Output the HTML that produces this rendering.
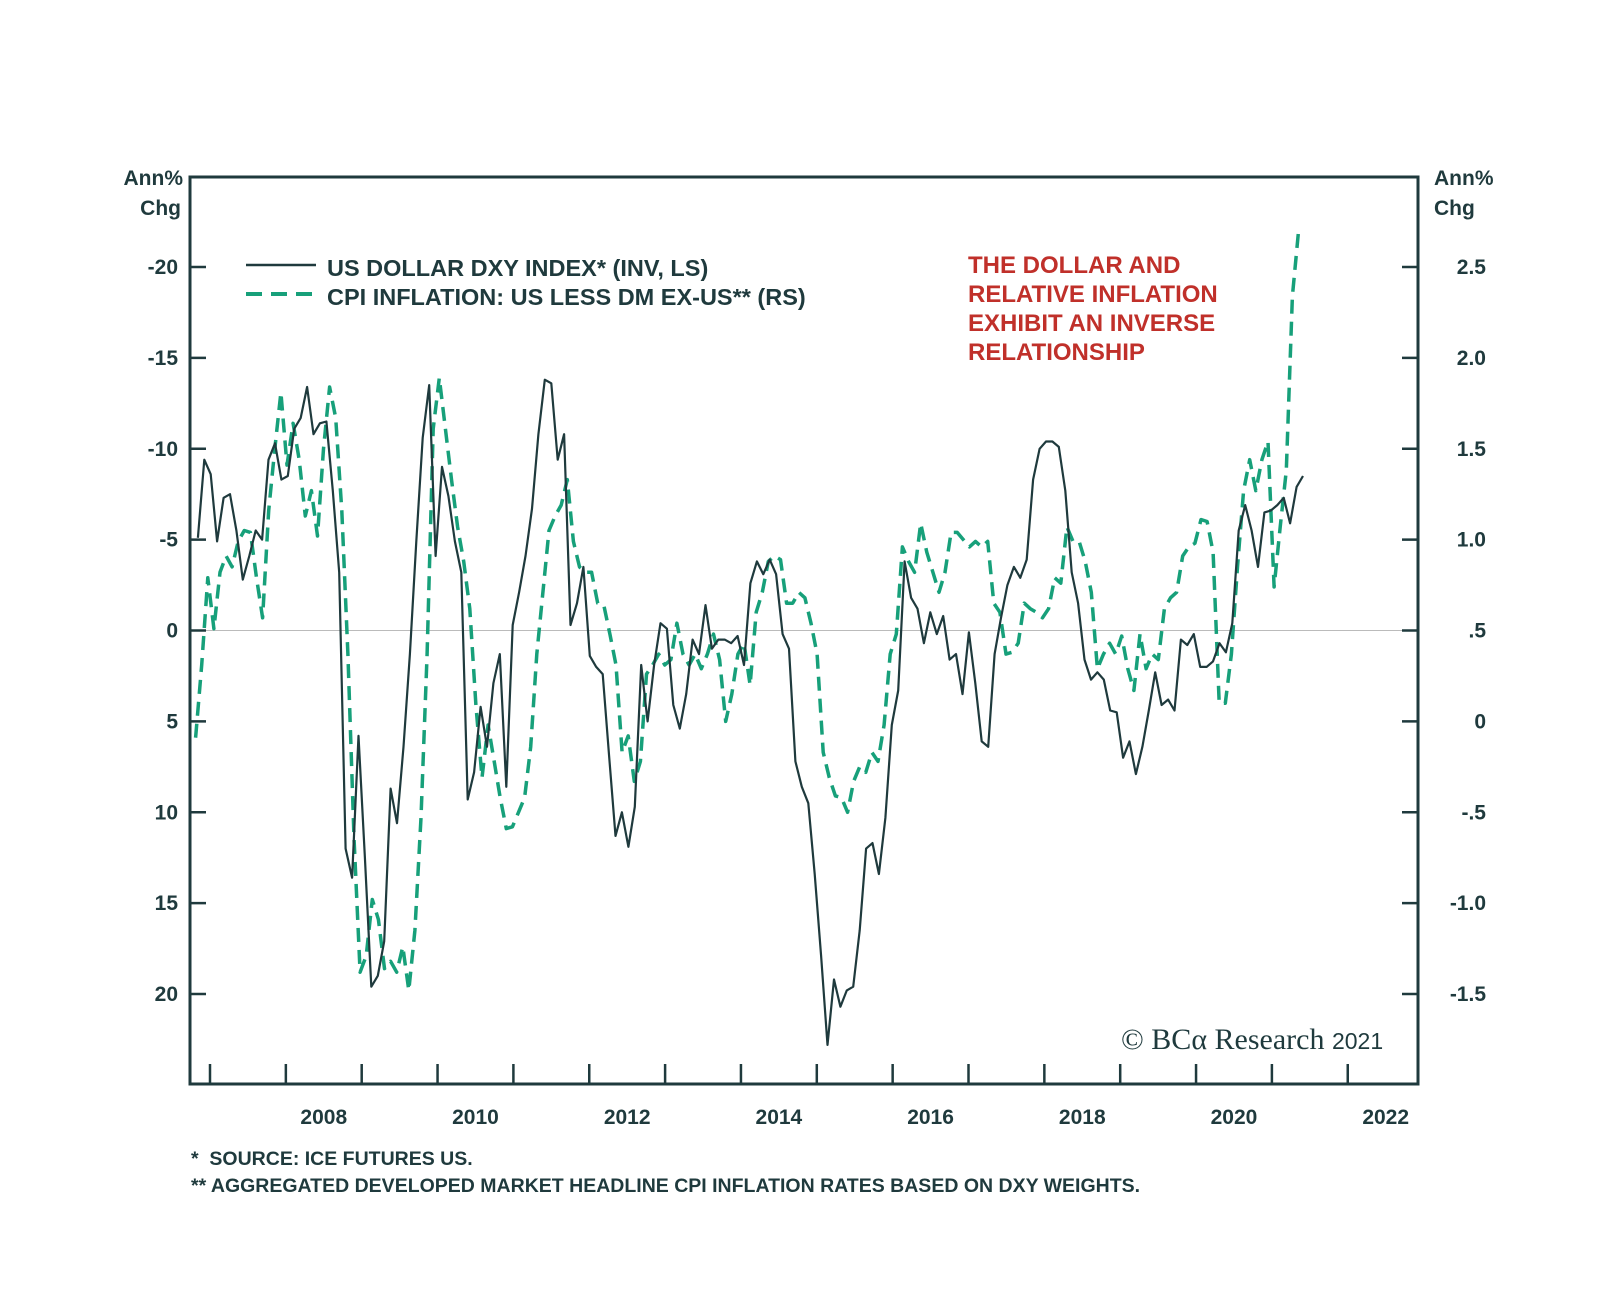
<!DOCTYPE html>
<html><head><meta charset="utf-8"><style>
html,body{margin:0;padding:0;background:#fff;}
svg{display:block;font-family:"Liberation Sans",sans-serif;}
</style></head><body>
<svg id="chart" width="1600" height="1298" viewBox="0 0 1600 1298" xmlns="http://www.w3.org/2000/svg">
<g id="axes"></g>
<g id="series"></g>
<g>
<line x1="246" y1="265" x2="316" y2="265" stroke="#1f3a3d" stroke-width="2.5"/>
<text x="327" y="276" font-size="23.5" font-weight="bold" fill="#1f3a3d">US DOLLAR DXY INDEX* (INV, LS)</text>
<line x1="246" y1="294" x2="316" y2="294" stroke="#17a07a" stroke-width="4" stroke-dasharray="16,9"/>
<text x="327" y="305" font-size="23.5" font-weight="bold" fill="#1f3a3d">CPI INFLATION: US LESS DM EX-US** (RS)</text>
</g>
<g font-size="24" font-weight="bold" fill="#c0302a">
<text x="968" y="273">THE DOLLAR AND</text>
<text x="968" y="302">RELATIVE INFLATION</text>
<text x="968" y="331">EXHIBIT AN INVERSE</text>
<text x="968" y="360">RELATIONSHIP</text>
</g>
<text font-size="21" font-weight="bold" fill="#1f3a3d" text-anchor="end"><tspan x="183" y="185">Ann%</tspan><tspan x="181" y="215">Chg</tspan></text>
<text font-size="21" font-weight="bold" fill="#1f3a3d" text-anchor="start"><tspan x="1434" y="185">Ann%</tspan><tspan x="1434" y="215">Chg</tspan></text>
<text x="1121" y="1049" font-family="Liberation Serif,serif" font-size="30" fill="#1f3a3d">© BCα Research <tspan font-family="Liberation Sans,sans-serif" font-size="23">2021</tspan></text>
<g font-size="19.5" font-weight="bold" fill="#1f3a3d">
<text x="191" y="1165" xml:space="preserve">*  SOURCE: ICE FUTURES US.</text>
<text x="191" y="1192">** AGGREGATED DEVELOPED MARKET HEADLINE CPI INFLATION RATES BASED ON DXY WEIGHTS.</text>
</g>
</svg>
<script>
const dxyStart = 2006.84, dxyEnd = 2021.41;
const dxyValues = [-5.1,-9.4,-8.6,-4.9,-7.3,-7.5,-5.5,-2.8,-4.1,-5.5,-5.0,-9.4,-10.3,-8.3,-8.5,-11.1,-11.7,-13.4,-10.8,-11.4,-11.5,-7.7,-3.2,12.0,13.6,5.8,12.5,19.6,19.0,17.1,8.7,10.6,6.4,1.3,-4.9,-10.6,-13.5,-4.1,-9.0,-7.4,-4.9,-3.2,9.3,7.8,4.2,6.4,2.9,1.3,8.6,-0.3,-2.1,-4.1,-6.7,-10.8,-13.8,-13.6,-9.4,-10.8,-0.3,-1.5,-3.5,1.4,2.0,2.4,6.9,11.3,10.0,11.9,9.7,1.9,5.0,1.9,-0.4,-0.1,4.1,5.4,3.5,0.5,1.3,-1.4,1.0,0.5,0.5,0.7,0.3,1.9,-2.6,-3.8,-3.1,-3.9,-3.1,0.2,1.0,7.2,8.6,9.5,13.4,17.9,22.8,19.2,20.7,19.8,19.6,16.5,12.0,11.7,13.4,10.3,5.2,3.3,-3.8,-1.8,-1.2,0.7,-1.0,0.2,-0.8,1.6,1.3,3.5,0.1,2.9,6.1,6.4,1.3,-0.7,-2.5,-3.5,-2.9,-3.9,-8.3,-10.0,-10.4,-10.4,-10.1,-7.7,-3.2,-1.5,1.6,2.7,2.3,2.7,4.4,4.5,7.0,6.1,7.9,6.4,4.4,2.3,4.1,3.8,4.4,0.5,0.8,0.2,2.0,2.0,1.7,0.7,1.2,-0.4,-5.5,-6.9,-5.5,-3.5,-6.5,-6.6,-6.9,-7.3,-5.9,-7.9,-8.5];
const cpiStart = 2006.81, cpiEnd = 2021.35;
const cpiValues = [-0.09,0.31,0.79,0.51,0.82,0.91,0.85,0.99,1.05,1.04,0.79,0.57,1.16,1.50,1.81,1.41,1.64,1.44,1.13,1.27,1.02,1.50,1.84,1.67,1.16,0.37,-0.64,-1.38,-1.29,-0.98,-1.09,-1.36,-1.32,-1.38,-1.24,-1.48,-1.15,-0.53,0.37,1.61,1.89,1.61,1.33,1.07,0.88,0.62,0.09,-0.31,-0.02,-0.22,-0.42,-0.59,-0.58,-0.50,-0.42,-0.14,0.37,0.71,1.05,1.13,1.19,1.33,0.99,0.85,0.82,0.82,0.65,0.64,0.48,0.31,-0.17,-0.08,-0.33,-0.22,0.26,0.31,0.37,0.31,0.34,0.54,0.37,0.31,0.37,0.29,0.37,0.48,0.34,0.00,0.15,0.37,0.43,0.20,0.60,0.71,0.88,0.91,0.89,0.65,0.65,0.71,0.68,0.54,0.37,-0.17,-0.31,-0.41,-0.42,-0.50,-0.33,-0.25,-0.28,-0.17,-0.22,-0.02,0.37,0.48,0.96,0.88,0.82,1.09,0.93,0.82,0.71,0.82,1.04,1.04,1.00,0.96,0.99,0.96,0.99,0.65,0.60,0.37,0.38,0.43,0.65,0.62,0.60,0.57,0.62,0.79,0.76,1.07,0.99,0.99,0.88,0.71,0.29,0.37,0.43,0.37,0.47,0.29,0.17,0.48,0.29,0.37,0.34,0.62,0.68,0.71,0.91,0.96,0.98,1.11,1.10,0.93,0.10,0.10,0.37,0.85,1.27,1.44,1.27,1.44,1.54,0.74,1.07,1.38,2.34,2.69];
const leftTicks = [-20,-15,-10,-5,0,5,10,15,20];
const rightTickLabels = ["2.5","2.0","1.5","1.0",".5","0","-.5","-1.0","-1.5"];
const rightTicks = [2.5,2.0,1.5,1.0,0.5,0,-0.5,-1.0,-1.5];
const yearTicks = [2007,2008,2009,2010,2011,2012,2013,2014,2015,2016,2017,2018,2019,2020,2021,2022];
const yearLabels = [2008,2010,2012,2014,2016,2018,2020,2022];

const F = {l:190, r:1418, t:177, b:1084};
const X = yr => 210 + (yr - 2007) * 75.85;
const YL = v => 267 + (v + 20) * 18.175;
const YR = v => 267 + (2.5 - v) * 181.75;
const NS = "http://www.w3.org/2000/svg";
const axes = document.getElementById('axes'), series = document.getElementById('series');
function mk(tag, attrs, parent){const e=document.createElementNS(NS,tag);for(const k in attrs)e.setAttribute(k,attrs[k]);parent.appendChild(e);return e;}
const C = "#1f3a3d";

let zl = mk('line',{x1:F.l,x2:F.r,y1:YL(0),y2:YL(0),stroke:"#bbb","stroke-width":1},axes);


let fr = mk('rect',{x:F.l,y:F.t,width:F.r-F.l,height:F.b-F.t,fill:"none",stroke:C,"stroke-width":3},axes);



leftTicks.forEach(v=>{
  const t=mk('line',{x1:F.l,x2:F.l+16,y1:YL(v),y2:YL(v),stroke:C,"stroke-width":2.5},axes);
  
  
  const s=mk('text',{x:178,y:YL(v)+7,"text-anchor":"end","font-size":21,"font-weight":"bold",fill:C},axes);
  
  
  s.textContent=String(v);
});
rightTicks.forEach((v,i)=>{
  const t=mk('line',{x1:F.r-16,x2:F.r,y1:YR(v),y2:YR(v),stroke:C,"stroke-width":2.5},axes);
  
  
  const s=mk('text',{x:1486,y:YR(v)+7,"text-anchor":"end","font-size":21,"font-weight":"bold",fill:C},axes);
  
  
  s.textContent=rightTickLabels[i];
});
yearTicks.forEach(y=>{
  const t=mk('line',{x1:X(y),x2:X(y),y1:F.b-20,y2:F.b,stroke:C,"stroke-width":2.5},axes);
  
  
});
yearLabels.forEach(y=>{
  const s=mk('text',{x:X(y+0.5),y:1124,"text-anchor":"middle","font-size":21,"font-weight":"bold",fill:C},axes);
  
  
  s.textContent=String(y);
});

function path(vals,start,end,yf){
  const n=vals.length;
  return vals.map((v,i)=>(i?'L':'M')+X(start+(end-start)*i/(n-1)).toFixed(1)+','+yf(v).toFixed(1)).join('');
}
const cp=mk('path',{d:path(cpiValues,cpiStart,cpiEnd,YR),fill:"none",stroke:"#17a07a","stroke-width":3.5,"stroke-dasharray":"14,8","stroke-linejoin":"round"},series);


const dp=mk('path',{d:path(dxyValues,dxyStart,dxyEnd,YL),fill:"none",stroke:C,"stroke-width":2.2,"stroke-linejoin":"round"},series);


</script>
</body></html>
